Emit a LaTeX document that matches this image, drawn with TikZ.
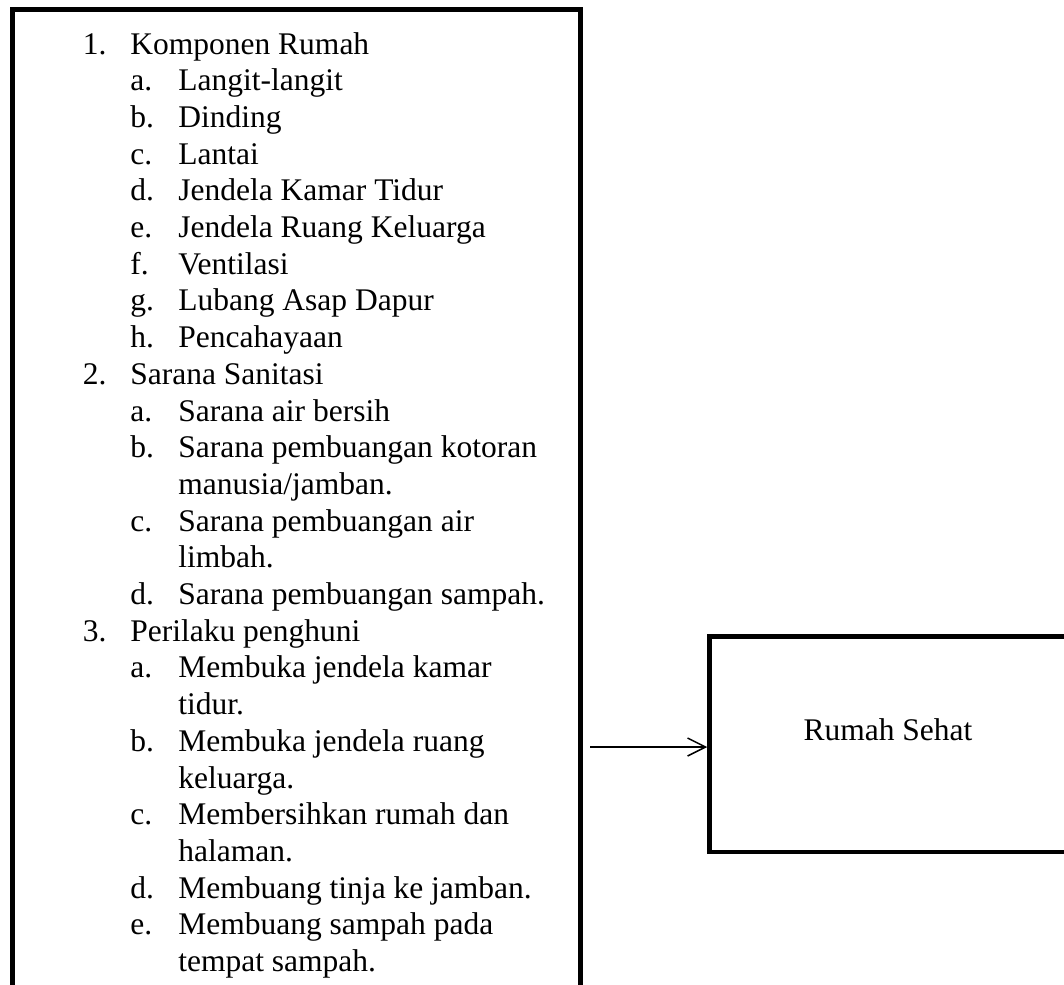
\documentclass[tikz,border=0pt]{standalone}
\usepackage{fontspec}
\setmainfont{Liberation Serif}
\usetikzlibrary{arrows.meta}

\newcommand\butir[2]{\makebox[23.75pt][l]{#1}#2}
\newcommand\anak[2]{\hspace*{23.75pt}\makebox[24pt][l]{#1}#2}
\newcommand\sambung[1]{\hspace*{47.75pt}#1}

\begin{document}
\begin{tikzpicture}
  [x=0.5pt, y=-0.5pt,
   kotak/.style={draw, line width=2.25pt, inner sep=0pt},
   teks/.style={font=\fontsize{15.75}{18.35}\selectfont},
   panah/.style={-{Straight Barb[length=9pt,width=9pt]}, line width=0.75pt}]
  \useasboundingbox (0,0) rectangle (1064,984);
  \clip (0,0) rectangle (1064,984);
  \node [kotak, minimum width=284pt, minimum height=520pt, anchor=north west] (faktor) at (10.25,7.25) {};
  % base of the list is the baseline of its last line
  \node [teks, align=left, inner sep=0pt, anchor=base west] (daftar) at (82.5,971.5) {%
    \butir{1.}{Komponen Rumah}\\
    \anak{a.}{Langit-langit}\\
    \anak{b.}{Dinding}\\
    \anak{c.}{Lantai}\\
    \anak{d.}{Jendela Kamar Tidur}\\
    \anak{e.}{Jendela Ruang Keluarga}\\
    \anak{f.}{Ventilasi}\\
    \anak{g.}{Lubang Asap Dapur}\\
    \anak{h.}{Pencahayaan}\\
    \butir{2.}{Sarana Sanitasi}\\
    \anak{a.}{Sarana air bersih}\\
    \anak{b.}{Sarana pembuangan kotoran}\\
    \sambung{manusia/jamban.}\\
    \anak{c.}{Sarana pembuangan air}\\
    \sambung{limbah.}\\
    \anak{d.}{Sarana pembuangan sampah.}\\
    \butir{3.}{Perilaku penghuni}\\
    \anak{a.}{Membuka jendela kamar}\\
    \sambung{tidur.}\\
    \anak{b.}{Membuka jendela ruang}\\
    \sambung{keluarga.}\\
    \anak{c.}{Membersihkan rumah dan}\\
    \sambung{halaman.}\\
    \anak{d.}{Membuang tinja ke jamban.}\\
    \anak{e.}{Membuang sampah pada}\\
    \sambung{tempat sampah.}};
  \node [kotak, minimum width=200pt, minimum height=107.75pt, anchor=north west] (sehat) at (707.25,634.25) {};
  \node [teks, anchor=base] (judul) at (888,740) {Rumah Sehat};

  \coordinate (awal) at (590,747);
  \draw [panah] (awal) -- (awal -| sehat.west);
\end{tikzpicture}
\end{document}
